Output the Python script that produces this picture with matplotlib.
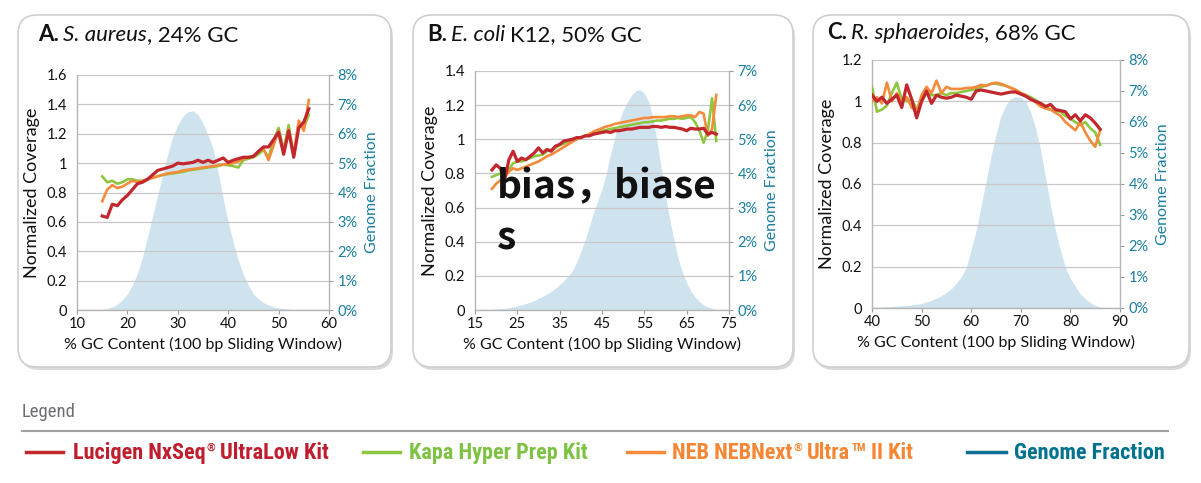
import matplotlib
matplotlib.use("Agg")
import matplotlib.pyplot as plt
from matplotlib.patches import FancyBboxPatch
from matplotlib.lines import Line2D
from matplotlib.ticker import FuncFormatter, MultipleLocator

plt.rcParams["font.family"] = ["Lato", "DejaVu Sans"]

RED = "#c1272d"
GREEN = "#8dc63f"
ORANGE = "#f58a3a"
FILL = "#cfe3ee"
TEAL = "#1a7fa0"
GRID = "#c8c8c8"

# ---- panel A: S. aureus (GC 15..56)
gc_a = list(range(15, 57))
red_a = [0.64, 0.63, 0.72, 0.71, 0.75, 0.78, 0.82, 0.86, 0.87, 0.89,
         0.92, 0.95, 0.96, 0.97, 0.98, 1.0, 0.995, 1.0, 1.005, 1.02,
         1.005, 1.02, 1.005, 1.02, 1.035, 1.005, 1.02, 1.03, 1.04, 1.04,
         1.045, 1.08, 1.11, 1.11, 1.16, 1.21, 1.06, 1.22, 1.04, 1.24,
         1.28, 1.37]
green_a = [0.91, 0.87, 0.88, 0.86, 0.87, 0.89, 0.89, 0.88, 0.88, 0.89,
           0.9, 0.91, 0.92, 0.925, 0.93, 0.935, 0.94, 0.95, 0.955, 0.96,
           0.965, 0.97, 0.975, 0.98, 0.99, 0.985, 0.98, 0.97, 1.02, 1.03,
           1.04, 1.06, 1.09, 1.04, 1.15, 1.24, 1.09, 1.26, 1.05, 1.27,
           1.24, 1.33]
orange_a = [0.74, 0.82, 0.85, 0.83, 0.84, 0.86, 0.88, 0.87, 0.88, 0.89,
            0.9, 0.91, 0.92, 0.93, 0.935, 0.94, 0.95, 0.955, 0.96, 0.965,
            0.97, 0.975, 0.98, 0.985, 0.99, 0.995, 1.0, 1.01, 1.03, 1.04,
            1.05, 1.08, 1.1, 1.02, 1.12, 1.22, 1.08, 1.23, 1.06, 1.29,
            1.22, 1.43]
genome_a = [0.02, 0.05, 0.1, 0.2, 0.35, 0.55, 0.85, 1.25, 1.8, 2.5,
            3.2, 3.9, 4.6, 5.3, 5.9, 6.3, 6.6, 6.75, 6.78, 6.65,
            6.35, 5.95, 5.5, 4.7, 3.8, 3.0, 2.3, 1.7, 1.2, 0.85,
            0.55, 0.38, 0.25, 0.17, 0.11, 0.07, 0.05, 0.03, 0.02, 0.01,
            0.01, 0.0]

# ---- panel B: E. coli K12 (GC 19..72)
gc_b = list(range(19, 73))
red_b = [0.82, 0.85, 0.83, 0.76, 0.88, 0.93, 0.87, 0.89, 0.88, 0.9,
         0.92, 0.95, 0.92, 0.94, 0.93, 0.96, 0.97, 0.99, 0.995, 1.0,
         1.01, 1.01, 1.02, 1.02, 1.03, 1.035, 1.04, 1.045, 1.04, 1.05,
         1.05, 1.055, 1.06, 1.06, 1.065, 1.07, 1.07, 1.07, 1.075, 1.075,
         1.07, 1.075, 1.07, 1.07, 1.065, 1.06, 1.05, 1.065, 1.06, 1.06,
         1.065, 1.03, 1.04, 1.03]
green_b = [0.78, 0.79, 0.8, 0.78, 0.82, 0.86, 0.87, 0.87, 0.88, 0.89,
           0.9, 0.905, 0.91, 0.93, 0.94, 0.95, 0.965, 0.975, 0.985, 1.0,
           1.005, 1.01, 1.02, 1.03, 1.035, 1.04, 1.05, 1.055, 1.06, 1.065,
           1.07, 1.075, 1.08, 1.085, 1.09, 1.095, 1.1, 1.1, 1.105, 1.11,
           1.11, 1.115, 1.12, 1.12, 1.125, 1.12, 1.125, 1.13, 1.1, 1.05,
           0.98, 1.05, 1.24, 0.99]
orange_b = [0.71, 0.74, 0.76, 0.78, 0.81, 0.83, 0.82, 0.83, 0.84, 0.85,
            0.86, 0.87, 0.885, 0.9, 0.91, 0.925, 0.94, 0.955, 0.97, 0.985,
            1.0, 1.01, 1.02, 1.03, 1.045, 1.055, 1.065, 1.075, 1.08, 1.09,
            1.095, 1.1, 1.105, 1.11, 1.115, 1.12, 1.125, 1.125, 1.13, 1.13,
            1.13, 1.13, 1.135, 1.135, 1.13, 1.135, 1.14, 1.14, 1.13, 1.16,
            1.15, 1.02, 1.06, 1.26]
genome_b = [0.02, 0.03, 0.04, 0.05, 0.07, 0.09, 0.12, 0.15, 0.19, 0.23,
            0.28, 0.34, 0.4, 0.47, 0.55, 0.64, 0.74, 0.86, 1.0, 1.15,
            1.4, 1.7, 2.05, 2.45, 2.85, 3.2, 3.55, 4.0, 4.55, 5.05,
            5.5, 5.85, 6.1, 6.3, 6.42, 6.45, 6.35, 6.1, 5.65, 4.95,
            4.15, 3.35, 2.65, 2.05, 1.5, 1.1, 0.8, 0.55, 0.38, 0.25,
            0.15, 0.09, 0.05, 0.02]

# ---- panel C: R. sphaeroides (GC 40..86)
gc_c = list(range(40, 87))
red_c = [1.03, 1.0, 1.02, 0.99, 1.01, 1.03, 0.97, 1.08, 1.01, 0.92,
         1.0, 1.05, 0.99, 1.03, 1.02, 1.015, 1.02, 1.03, 1.025, 1.02,
         1.01, 1.05, 1.055, 1.05, 1.045, 1.04, 1.035, 1.04, 1.045, 1.045,
         1.035, 1.025, 1.01, 1.0, 0.99, 0.975, 0.985, 0.96, 0.955, 0.95,
         0.915, 0.935, 0.905, 0.935, 0.92, 0.895, 0.865]
green_c = [1.07, 0.95, 0.96, 0.98, 1.04, 1.09, 1.01, 1.0, 1.01, 0.96,
           1.0, 1.04, 1.03, 1.03, 1.04, 1.03, 1.04, 1.04, 1.045, 1.05,
           1.055, 1.06, 1.07, 1.075, 1.085, 1.085, 1.08, 1.075, 1.065, 1.055,
           1.04, 1.03, 1.02, 1.005, 0.99, 0.975, 0.96, 0.955, 0.95, 0.93,
           0.915, 0.9, 0.885, 0.9, 0.87, 0.85, 0.79]
orange_c = [1.0, 1.02, 0.99, 1.09, 1.0, 1.04, 1.0, 1.02, 0.97, 0.95,
            1.03, 1.07, 1.04, 1.1, 1.04, 1.07, 1.06, 1.06, 1.06, 1.065,
            1.065, 1.07, 1.08, 1.075, 1.085, 1.09, 1.085, 1.075, 1.065, 1.055,
            1.04, 1.03, 1.01, 0.995, 0.975, 0.965, 0.96, 0.945, 0.93, 0.9,
            0.88, 0.86, 0.9, 0.85, 0.81, 0.78, 0.86]
genome_c = [0.02, 0.03, 0.03, 0.04, 0.05, 0.06, 0.07, 0.08, 0.1, 0.12,
            0.15, 0.2, 0.25, 0.32, 0.4, 0.5, 0.62, 0.8, 1.0, 1.3,
            1.9, 2.5, 3.3, 4.1, 4.9, 5.6, 6.2, 6.55, 6.75, 6.82,
            6.8, 6.65, 6.3, 5.8, 5.1, 4.2, 3.3, 2.5, 1.85, 1.3,
            0.95, 0.7, 0.45, 0.3, 0.18, 0.08, 0.03]

# legend entries: (text, superscript?, gap after in px)
legend_parts = [
    [("Lucigen NxSeq", False, 1), ("\u00ae", True, 5), ("UltraLow Kit", False, 0)],
    [("Kapa Hyper Prep Kit", False, 0)],
    [("NEB NEBNext", False, 1), ("\u00ae", True, 5), ("Ultra", False, 1),
     ("TM", True, 5), ("II Kit", False, 0)],
    [("Genome Fraction", False, 0)],
]

W, H = 1201, 483
fig = plt.figure(figsize=(W / 100, H / 100), dpi=100)
fig.patch.set_facecolor("white")


def fx(px):
    return px / W


def fy(py):
    return 1 - py / H


def panel_box(x0, x1, y0, y1):
    shadow = FancyBboxPatch((fx(x0 + 2), fy(y1 + 3)), fx(x1 - x0), (y1 - y0) / H,
                            boxstyle="round,pad=0,rounding_size=0.016",
                            transform=fig.transFigure, facecolor="#d9d9d9",
                            edgecolor="none", zorder=-3, mutation_aspect=W / H)
    box = FancyBboxPatch((fx(x0), fy(y1)), fx(x1 - x0), (y1 - y0) / H,
                         boxstyle="round,pad=0,rounding_size=0.016",
                         transform=fig.transFigure, facecolor="white",
                         edgecolor="#cfcfcf", linewidth=1.2, zorder=-2,
                         mutation_aspect=W / H)
    fig.patches.extend([shadow, box])


def rich_text(x, y, parts, size):
    renderer = fig.canvas.get_renderer()
    for txt, style, gap in parts:
        t = fig.text(x, y, txt, fontsize=size, va="baseline", color="#111111", **style)
        x += t.get_window_extent(renderer).width / W + gap / W


def panel(rect, gc, red, green, orange, genome, xticks, ylim, gmax):
    ax = fig.add_axes(rect)
    ax2 = ax.twinx()
    ax2.fill_between(gc, genome, color=FILL, linewidth=0)
    ax2.set_ylim(0, gmax)
    ax.set_zorder(ax2.get_zorder() + 1)
    ax.patch.set_visible(False)

    ax.plot(gc, green, color=GREEN, lw=1.9, zorder=3)
    ax.plot(gc, orange, color=ORANGE, lw=1.9, zorder=3)
    ax.plot(gc, red, color=RED, lw=2.3, zorder=4)

    ax.set_xlim(xticks[0], xticks[-1])
    ax.set_xticks(xticks)
    ax.set_ylim(*ylim)
    ax.yaxis.set_major_locator(MultipleLocator(0.2))
    ax.yaxis.set_major_formatter(FuncFormatter(lambda v, p: f"{v:g}"))
    ax.grid(axis="y", color=GRID, lw=0.9)
    ax.set_axisbelow(True)
    ax.tick_params(axis="y", length=0, pad=7, labelsize=10.5, labelcolor="#111111")
    ax.tick_params(axis="x", length=3, width=0.8, color="#999999", pad=2,
                   labelsize=10.5, labelcolor="#111111")
    ax.spines["top"].set_visible(False)
    for side in ("left", "right", "bottom"):
        ax.spines[side].set_color("#b5b5b5")
        ax.spines[side].set_linewidth(1.0)

    ax2.yaxis.set_major_locator(MultipleLocator(1))
    ax2.yaxis.set_major_formatter(FuncFormatter(lambda v, p: f"{v:.0f}%"))
    ax2.tick_params(axis="y", length=3, width=0.8, color="#999999", pad=3,
                    labelsize=10.5, labelcolor=TEAL)
    for side in ("top", "left", "bottom", "right"):
        ax2.spines[side].set_visible(False)

    ax.set_xlabel("% GC Content (100 bp Sliding Window)", fontsize=11.5,
                  color="#111111", labelpad=4)
    ax.set_ylabel("Normalized Coverage", fontsize=13, color="#111111", labelpad=5)
    ax2.set_ylabel("Genome Fraction", fontsize=11.5, color=TEAL, labelpad=5)
    return ax


panel_box(18, 391, 15, 367)
panel_box(413, 793, 15, 367)
panel_box(813, 1189, 15, 367)

panel([fx(77), fy(310), 252 / W, 235 / H], gc_a, red_a, green_a, orange_a, genome_a,
      list(range(10, 61, 10)), (0, 1.6), 8)
panel([fx(475), fy(310), 254 / W, 239 / H], gc_b, red_b, green_b, orange_b, genome_b,
      list(range(15, 76, 10)), (0, 1.4), 7)
panel([fx(872), fy(308), 248 / W, 248 / H], gc_c, red_c, green_c, orange_c, genome_c,
      list(range(40, 91, 10)), (0, 1.2), 8)

rich_text(fx(38), fy(41), [("A.", {"fontweight": "bold"}, 4),
                           ("S. aureus", {"fontstyle": "italic"}, 0),
                           (", 24% GC", {}, 0)], 16)
rich_text(fx(427), fy(41), [("B.", {"fontweight": "bold"}, 4),
                            ("E. coli", {"fontstyle": "italic"}, 5),
                            ("K12, 50% GC", {}, 0)], 16)
rich_text(fx(827), fy(39), [("C.", {"fontweight": "bold"}, 4),
                            ("R. sphaeroides", {"fontstyle": "italic"}, 0),
                            (", 68% GC", {}, 0)], 16)

# overlay text in panel B
fig.text(fx(497), fy(198), "bias\uff0cbiase", fontsize=28, fontweight="black",
         family=["Noto Sans CJK SC", "DejaVu Sans"], color="#111111", va="baseline")
fig.text(fx(497), fy(250), "s", fontsize=28, fontweight="black",
         family=["Noto Sans CJK SC", "DejaVu Sans"], color="#111111", va="baseline")

# legend
fig.text(fx(22), fy(412), "Legend", fontsize=13.5, color="#6d6e71", va="center",
         family=["Roboto Condensed", "Lato", "DejaVu Sans"])
fig.add_artist(Line2D([fx(22), fx(1168)], [fy(431), fy(431)], color="#a0a0a0", lw=1.5,
                      transform=fig.transFigure))
legend_colors = [RED, GREEN, ORANGE, "#0f6f92"]
text_colors = ["#be1e2d", "#7dc242", "#f58634", "#00728f"]
line_x = [(26, 63), (363, 400), (627, 664), (967, 1006)]
text_x = [73, 409, 672, 1014]
legend_font = ["Roboto Condensed", "Roboto", "DejaVu Sans"]
renderer = fig.canvas.get_renderer()
for parts, lc, tc, (l0, l1), tx in zip(legend_parts, legend_colors, text_colors, line_x, text_x):
    fig.add_artist(Line2D([fx(l0), fx(l1)], [fy(452), fy(452)], color=lc, lw=2.5,
                          transform=fig.transFigure))
    x = fx(tx)
    for txt, sup, gap in parts:
        size = 8 if sup else 16
        y = fy(451) if sup else fy(459)
        t = fig.text(x, y, txt, fontsize=size, fontweight="bold", color=tc,
                     va="baseline", family=legend_font)
        x += t.get_window_extent(renderer).width / W + gap / W

fig.savefig("out.png", dpi=100, facecolor="white")
